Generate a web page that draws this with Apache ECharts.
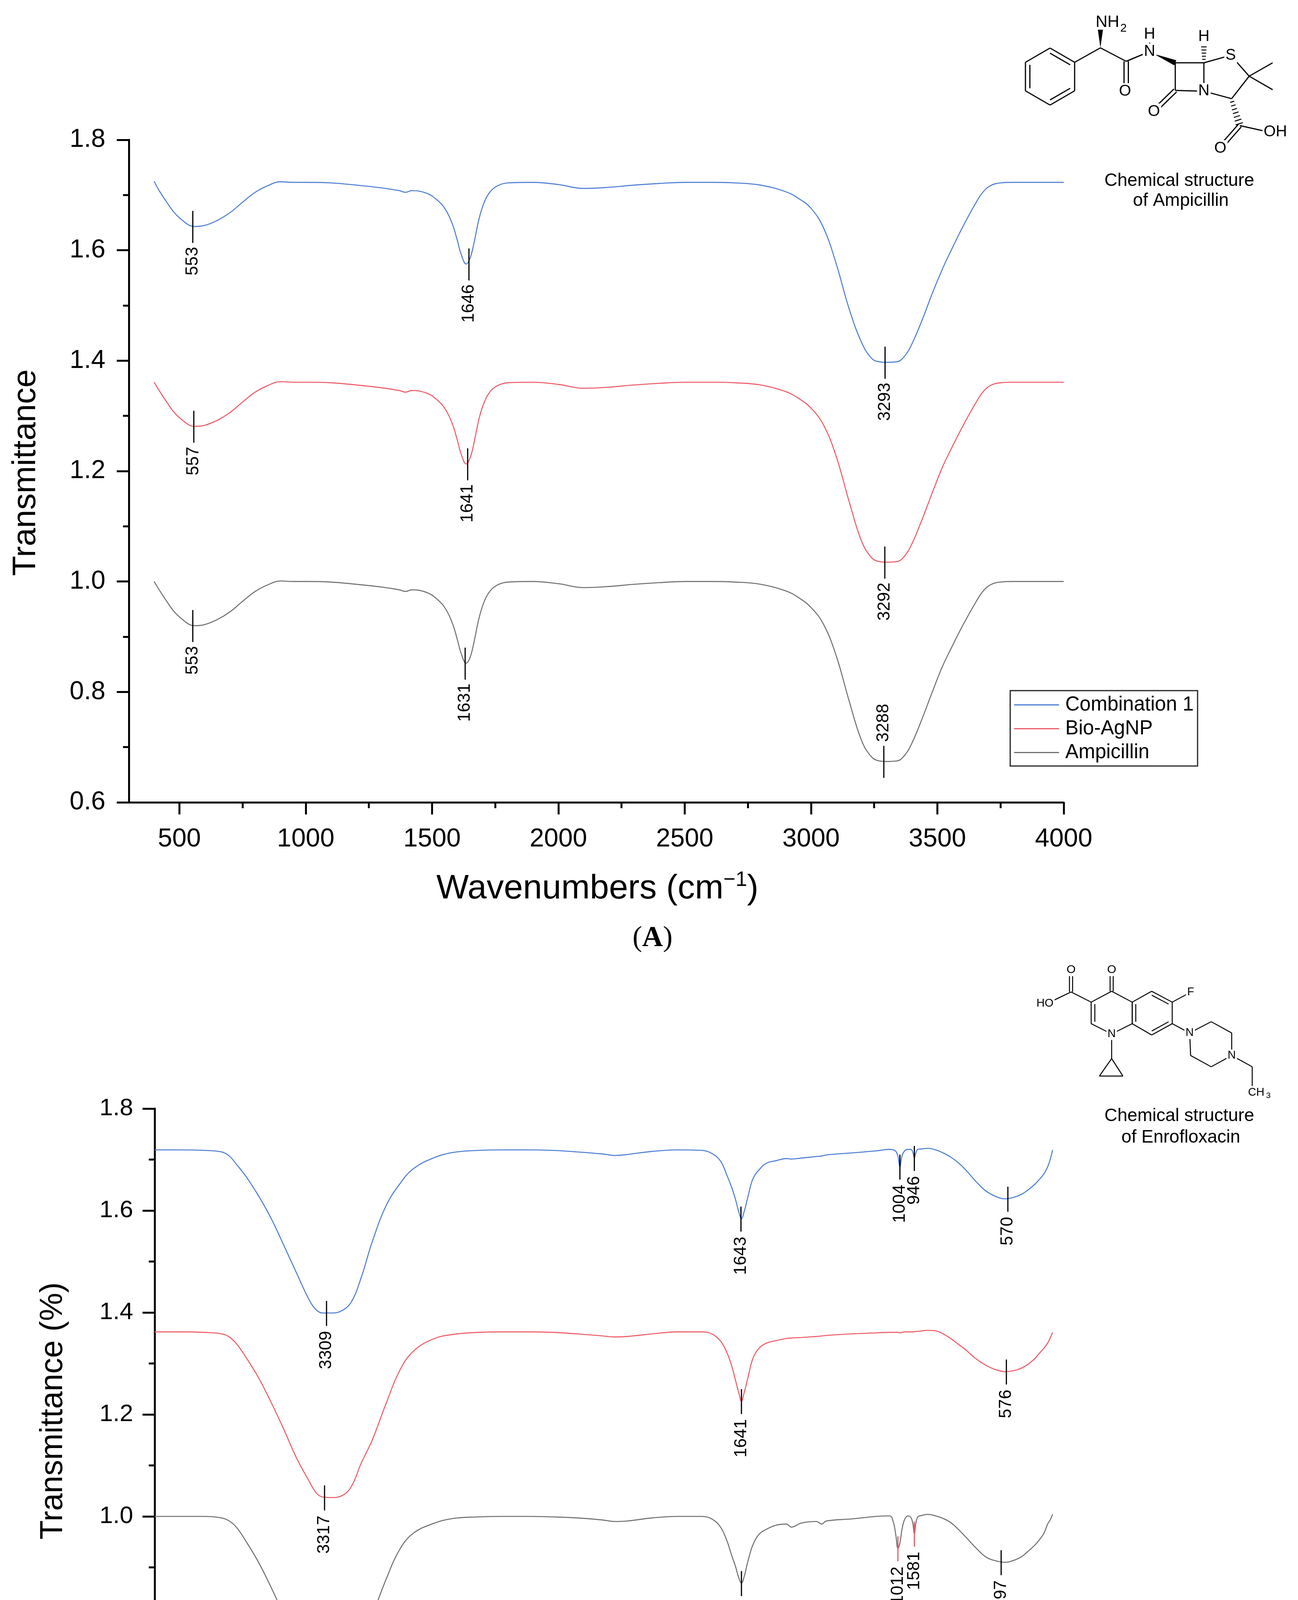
<!DOCTYPE html>
<html>
<head>
<meta charset="utf-8">
<title>FTIR spectra: Ampicillin and Enrofloxacin combinations</title>
<script src="https://cdn.jsdelivr.net/npm/echarts@6/dist/echarts.min.js"></script>
<style>
    html, body { margin: 0; padding: 0; background: #fff; }
    #chart { width: 3324px; height: 4792px; }
</style>
</head>
<body>
<div id="chart"></div>
<script>
// ---- Panel A: Ampicillin / Bio-AgNP / Combination 1 ----
const wavenumbersA = [400, 420, 450, 480, 510, 540, 560, 600, 650, 700, 750, 800, 850, 900, 950, 1000, 1100, 1200, 1300, 1370,
    1395, 1420, 1480, 1520, 1550, 1580, 1600, 1615, 1635, 1650, 1665, 1685, 1705, 1730, 1760, 1800, 1900, 2000, 2100, 2200,
    2300, 2400, 2500, 2600, 2700, 2800, 2900, 2950, 3000, 3050, 3100, 3150, 3200, 3240, 3270, 3300, 3340, 3370, 3400, 3440,
    3480, 3520, 3560, 3600, 3650, 3680, 3710, 3750, 3800, 3900, 4000];

const combination1 = [1.725, 1.708, 1.687, 1.668, 1.655, 1.645, 1.643, 1.645, 1.654, 1.668,
    1.687, 1.705, 1.717, 1.724, 1.723, 1.723, 1.722, 1.718, 1.713, 1.708,
    1.705, 1.708, 1.703, 1.691, 1.676, 1.648, 1.618, 1.593, 1.575, 1.585,
    1.611, 1.655, 1.685, 1.706, 1.717, 1.722, 1.723, 1.719, 1.712, 1.714,
    1.718, 1.721, 1.723, 1.723, 1.722, 1.718, 1.706, 1.694, 1.676, 1.640,
    1.575, 1.495, 1.433, 1.404, 1.398, 1.397, 1.398, 1.408, 1.431, 1.474,
    1.522, 1.566, 1.605, 1.642, 1.684, 1.705, 1.717, 1.722, 1.723, 1.723,
    1.723];

const bioAgnpA = [1.361, 1.346, 1.325, 1.306, 1.293, 1.283, 1.281, 1.283, 1.292, 1.306,
    1.325, 1.343, 1.355, 1.362, 1.361, 1.361, 1.360, 1.356, 1.351, 1.346,
    1.343, 1.346, 1.341, 1.329, 1.314, 1.286, 1.256, 1.231, 1.213, 1.223,
    1.249, 1.293, 1.323, 1.344, 1.355, 1.360, 1.361, 1.357, 1.350, 1.352,
    1.356, 1.359, 1.361, 1.361, 1.360, 1.356, 1.344, 1.332, 1.314, 1.283,
    1.226, 1.146, 1.073, 1.043, 1.036, 1.035, 1.036, 1.046, 1.069, 1.113,
    1.161, 1.207, 1.245, 1.281, 1.322, 1.343, 1.355, 1.360, 1.361, 1.361,
    1.361];

const ampicillin = [1.000, 0.985, 0.964, 0.945, 0.932, 0.922, 0.920, 0.922, 0.931, 0.945,
    0.964, 0.982, 0.994, 1.001, 1.000, 1.000, 0.999, 0.995, 0.990, 0.985,
    0.982, 0.985, 0.980, 0.968, 0.953, 0.925, 0.895, 0.870, 0.852, 0.862,
    0.888, 0.932, 0.962, 0.983, 0.994, 0.999, 1.000, 0.996, 0.989, 0.991,
    0.995, 0.998, 1.000, 1.000, 0.999, 0.995, 0.983, 0.971, 0.953, 0.922,
    0.865, 0.785, 0.712, 0.682, 0.675, 0.674, 0.675, 0.685, 0.708, 0.752,
    0.800, 0.846, 0.884, 0.920, 0.961, 0.982, 0.994, 0.999, 1.000, 1.000,
    1.000];

const peakXA = [553, 1646, 3293, 557, 1641, 3292, 553, 1631, 3288];
const peakYA = [1.643, 1.575, 1.397, 1.281, 1.213, 1.035, 0.920, 0.852, 0.674];
const peakTextA = ['553', '1646', '3293', '557', '1641', '3292', '553', '1631', '3288'];

// ---- Panel B: Enrofloxacin / Bio-AgNP / Combination 2 ----
const wavenumbersB = [390, 400, 410, 425, 445, 465, 490, 515, 545, 580,
    620, 660, 700, 740, 770, 800, 830, 860, 893, 915,
    932, 940, 946, 952, 960, 972, 985, 995, 1004, 1012,
    1020, 1030, 1045, 1100, 1200, 1300, 1318, 1340, 1400, 1440,
    1460, 1500, 1540, 1570, 1595, 1615, 1630, 1641, 1652, 1665,
    1680, 1700, 1725, 1760, 1800, 1900, 2000, 2100, 2150, 2200,
    2300, 2400, 2500, 2600, 2700, 2800, 2880, 2960, 3015, 3070,
    3125, 3170, 3210, 3250, 3290, 3324, 3350, 3380, 3430, 3480,
    3530, 3580, 3630, 3670, 3700, 3730, 3800, 3900, 4000];

const combination2 = [1.719, 1.700, 1.686, 1.672, 1.660, 1.650, 1.640, 1.632, 1.626, 1.623,
    1.628, 1.639, 1.658, 1.680, 1.694, 1.705, 1.713, 1.719, 1.722, 1.721,
    1.720, 1.713, 1.703, 1.714, 1.720, 1.720, 1.717, 1.708, 1.686, 1.707,
    1.716, 1.719, 1.720, 1.717, 1.713, 1.709, 1.707, 1.706, 1.703, 1.701,
    1.702, 1.698, 1.693, 1.680, 1.662, 1.627, 1.598, 1.584, 1.598, 1.622,
    1.645, 1.670, 1.697, 1.712, 1.718, 1.719, 1.716, 1.710, 1.708, 1.711,
    1.715, 1.718, 1.719, 1.719, 1.718, 1.714, 1.703, 1.682, 1.652, 1.609,
    1.539, 1.468, 1.420, 1.403, 1.399, 1.399, 1.405, 1.426, 1.478, 1.531,
    1.583, 1.627, 1.665, 1.690, 1.707, 1.715, 1.718, 1.719, 1.719];

const bioAgnpB = [1.361, 1.350, 1.340, 1.330, 1.319, 1.308, 1.298, 1.291, 1.286, 1.284,
    1.288, 1.297, 1.310, 1.327, 1.338, 1.349, 1.358, 1.364, 1.365, 1.364,
    1.363, 1.363, 1.362, 1.362, 1.362, 1.362, 1.362, 1.361, 1.360, 1.361,
    1.361, 1.361, 1.361, 1.360, 1.358, 1.355, 1.354, 1.353, 1.351, 1.350,
    1.349, 1.345, 1.340, 1.330, 1.310, 1.272, 1.243, 1.226, 1.243, 1.267,
    1.295, 1.322, 1.344, 1.358, 1.362, 1.362, 1.358, 1.353, 1.352, 1.354,
    1.358, 1.361, 1.362, 1.362, 1.361, 1.357, 1.348, 1.324, 1.286, 1.221,
    1.150, 1.104, 1.058, 1.040, 1.037, 1.038, 1.046, 1.070, 1.115, 1.170,
    1.222, 1.270, 1.310, 1.338, 1.352, 1.358, 1.361, 1.362, 1.362];

const enrofloxacin = [1.004, 0.993, 0.985, 0.967, 0.953, 0.942, 0.931, 0.921, 0.914, 0.910,
    0.913, 0.921, 0.939, 0.960, 0.975, 0.988, 0.996, 1.001, 1.004, 1.002,
    0.999, 0.986, 0.966, 0.986, 0.998, 1.001, 0.994, 0.976, 0.948, 0.937,
    0.962, 0.988, 1.001, 1.000, 0.995, 0.991, 0.985, 0.990, 0.987, 0.979,
    0.985, 0.983, 0.975, 0.965, 0.944, 0.912, 0.882, 0.869, 0.880, 0.902,
    0.923, 0.953, 0.979, 0.995, 1.000, 1.000, 0.997, 0.991, 0.990, 0.993,
    0.997, 0.999, 1.000, 1.000, 0.999, 0.996, 0.986, 0.967, 0.935, 0.876,
    0.806, 0.752, 0.712, 0.690, 0.686, 0.686, 0.690, 0.704, 0.754, 0.806,
    0.859, 0.908, 0.949, 0.978, 0.991, 0.997, 1.000, 1.000, 1.000];

const peakXB = [3309, 1643, 1004, 946, 570, 3317, 1641, 576, 3324, 1641, 1012, 946, 597];
const peakYB = [1.399, 1.584, 1.686, 1.703, 1.623, 1.037, 1.226, 1.284, 0.686, 0.869, 0.937, 0.966, 0.910];
const peakTextB = ['3309', '1643', '1004', '946', '570', '3317', '1641', '576', '3324', '1641', '1012', '1581', '597'];

const xLabelsA = [500, 1000, 1500, 2000, 2500, 3000, 3500, 4000];
const xMinorA = [750, 1250, 1750, 2250, 2750, 3250, 3750];
const xLabelsB = [1000, 2000, 3000, 4000];
const xMinorB = [500, 1500, 2500, 3500];

// label placement tweaks (index into the peak arrays)
const labelAboveA = [8];
const labelAboveB = [8];
const redTickB = [10, 11];

const FONT = "'Liberation Sans', Arial, Helvetica, sans-serif";
const SERIF = "'Liberation Serif', 'Times New Roman', serif";
const BLUE = '#4C7DD5';
const RED = '#EE5A66';
const GRAY = '#707070';
const AXIS = { color: '#000', width: 5 };

function pairs(xs, ys) {
    return xs.map((x, i) => [x, ys[i]]);
}

function lineSeries(name, color, xs, ys, axis) {
    return {
        name,
        type: 'line',
        xAxisIndex: axis.x,
        yAxisIndex: axis.y,
        data: pairs(xs, ys),
        symbol: 'none',
        showSymbol: false,
        smooth: 0.4,
        color,
        lineStyle: { color, width: 2.6 },
        z: 2,
    };
}

function peakSeries(xs, ys, texts, axis, geom, aboveIdx, redIdx) {
    return {
        type: 'custom',
        xAxisIndex: axis.x,
        yAxisIndex: axis.y,
        data: pairs(xs, ys),
        z: 5,
        silent: true,
        renderItem(params, api) {
            const i = params.dataIndex;
            const p = api.coord([api.value(0), api.value(1)]);
            const top = p[1] - geom.up;
            const bottom = p[1] + geom.down;
            const above = aboveIdx.includes(i);
            return {
                type: 'group',
                children: [
                    {
                        type: 'line',
                        shape: { x1: p[0], y1: top, x2: p[0], y2: bottom },
                        style: { stroke: redIdx.includes(i) ? RED : '#000', lineWidth: 3 },
                    },
                    {
                        type: 'text',
                        x: p[0],
                        y: above ? top - geom.gap : bottom + geom.gap,
                        rotation: Math.PI / 2,
                        style: {
                            text: texts[i],
                            fill: '#000',
                            fontSize: geom.font,
                            fontFamily: FONT,
                            align: above ? 'left' : 'right',
                            verticalAlign: 'middle',
                        },
                    },
                ],
            };
        },
    };
}

function mainXAxis(gridIndex, inverse, labels, fontSize, margin) {
    return {
        type: 'value',
        gridIndex,
        min: 300,
        max: 4000,
        inverse,
        position: 'bottom',
        axisLine: { show: true, onZero: false, lineStyle: AXIS },
        axisTick: { show: true, length: 31, lineStyle: AXIS, customValues: labels },
        axisLabel: {
            customValues: labels,
            fontSize,
            fontFamily: FONT,
            color: '#000',
            margin,
            formatter: (v) => String(v),
        },
        splitLine: { show: false },
    };
}

function minorXAxis(gridIndex, inverse, ticks) {
    return {
        type: 'value',
        gridIndex,
        min: 300,
        max: 4000,
        inverse,
        position: 'bottom',
        axisLine: { show: false, onZero: false },
        axisTick: { show: true, length: 15, lineStyle: AXIS, customValues: ticks },
        axisLabel: { show: false, customValues: ticks },
        splitLine: { show: false },
    };
}

function yAxis(gridIndex, fontSize, margin) {
    return {
        type: 'value',
        gridIndex,
        min: 0.6,
        max: 1.8,
        interval: 0.2,
        axisLine: { show: true, lineStyle: AXIS },
        axisTick: { show: true, length: 31, lineStyle: AXIS },
        minorTick: { show: true, splitNumber: 2, length: 15, lineStyle: AXIS },
        axisLabel: { fontSize, fontFamily: FONT, color: '#000', margin, formatter: (v) => v.toFixed(1) },
        splitLine: { show: false },
        minorSplitLine: { show: false },
    };
}

function legendBox(names, left, top, fontSize, lineHeight, itemWidth, padding, textGap) {
    return {
        orient: 'vertical',
        left,
        top,
        data: names,
        selectedMode: false,
        icon: 'rect',
        itemWidth,
        itemHeight: 3,
        itemGap: 0,
        padding,
        borderColor: '#222',
        borderWidth: 3,
        backgroundColor: '#fff',
        textStyle: { color: '#000', fontSize, fontFamily: FONT, lineHeight, padding: [0, 0, 0, textGap] },
    };
}

// ---- chemical structure drawings ----
function bond(x1, y1, x2, y2, w) {
    return { type: 'line', z: 10, shape: { x1, y1, x2, y2 }, style: { stroke: '#000', lineWidth: w || 3 } };
}

function doubleBond(x1, y1, x2, y2, gap, w) {
    const len = Math.hypot(x2 - x1, y2 - y1);
    const nx = (-(y2 - y1) / len) * gap / 2;
    const ny = ((x2 - x1) / len) * gap / 2;
    return [bond(x1 + nx, y1 + ny, x2 + nx, y2 + ny, w), bond(x1 - nx, y1 - ny, x2 - nx, y2 - ny, w)];
}

function innerBond(p, q, c, w) {
    const f = 0.18;
    return bond(p[0] + (c[0] - p[0]) * f, p[1] + (c[1] - p[1]) * f,
        q[0] + (c[0] - q[0]) * f, q[1] + (c[1] - q[1]) * f, w);
}

function wedge(x1, y1, x2, y2, w) {
    const len = Math.hypot(x2 - x1, y2 - y1);
    const nx = (-(y2 - y1) / len) * w / 2;
    const ny = ((x2 - x1) / len) * w / 2;
    return { type: 'polygon', z: 10, shape: { points: [[x1, y1], [x2 + nx, y2 + ny], [x2 - nx, y2 - ny]] }, style: { fill: '#000' } };
}

function hashed(x1, y1, x2, y2, w, n) {
    const out = [];
    const len = Math.hypot(x2 - x1, y2 - y1);
    const ux = -(y2 - y1) / len;
    const uy = (x2 - x1) / len;
    for (let i = 0; i < n; i++) {
        const t = (i + 0.5) / n;
        const cx = x1 + (x2 - x1) * t;
        const cy = y1 + (y2 - y1) * t;
        const hw = (w / 2) * (0.5 + 0.5 * t);
        out.push(bond(cx - ux * hw, cy - uy * hw, cx + ux * hw, cy + uy * hw, 2.5));
    }
    return out;
}

function atom(x, y, text, fontSize) {
    return {
        type: 'text', x, y, z: 11,
        style: {
            text, fontSize, fontFamily: FONT, fill: '#000',
            align: 'center', verticalAlign: 'middle',
            backgroundColor: '#fff', padding: [1, 3],
        },
    };
}

function plainText(x, y, text, fontSize, extra) {
    return {
        type: 'text', x, y, z: 11,
        style: Object.assign({ text, fontSize, fontFamily: FONT, fill: '#000', align: 'center', verticalAlign: 'middle' }, extra || {}),
    };
}

function ampicillinDrawing() {
    const els = [];
    const c = [2689, 196];
    const ring = [[2689, 123], [2752, 159.5], [2752, 232.5], [2689, 269], [2626, 232.5], [2626, 159.5]];
    for (let i = 0; i < 6; i++) {
        els.push(bond(ring[i][0], ring[i][1], ring[(i + 1) % 6][0], ring[(i + 1) % 6][1]));
    }
    [[0, 1], [2, 3], [4, 5]].forEach(([a, b]) => els.push(innerBond(ring[a], ring[b], c)));

    els.push(bond(2752, 159.5, 2818, 122.5));
    els.push(wedge(2818, 122.5, 2818, 76, 13));
    els.push(bond(2818, 122.5, 2884, 157));
    els.push(...doubleBond(2884, 157, 2884, 214, 11));
    els.push(bond(2884, 157, 2944, 132));
    els.push(bond(2944, 132, 2944, 100));
    els.push(wedge(2955, 138, 3009.7, 160.7, 14));
    // beta-lactam ring
    els.push(bond(3009.7, 160.7, 3083, 160.7));
    els.push(bond(3083, 160.7, 3083, 233.4));
    els.push(bond(3083, 233.4, 3009.7, 231.5));
    els.push(bond(3009.7, 231.5, 3009.7, 160.7));
    els.push(...doubleBond(3009.7, 231.5, 2964, 276, 10));
    els.push(...hashed(3083, 156, 3083, 108, 16, 6));
    // thiazolidine ring
    els.push(bond(3083, 160.7, 3151.6, 141.6));
    els.push(bond(3151.6, 141.6, 3199, 195));
    els.push(bond(3199, 195, 3259, 160.7));
    els.push(bond(3199, 195, 3259, 229.6));
    els.push(bond(3199, 195, 3154, 252.6));
    els.push(bond(3154, 252.6, 3083, 233.4));
    els.push(...hashed(3154, 256, 3175, 321.5, 20, 7));
    els.push(bond(3175, 321.5, 3240, 336));
    els.push(...doubleBond(3175, 321.5, 3136, 366, 10));

    els.push(plainText(2836, 57, 'NH', 42));
    els.push(plainText(2877, 73, '2', 30));
    els.push(atom(2944, 88, 'H', 40));
    els.push(atom(2944, 132, 'N', 40));
    els.push(atom(3083, 94, 'H', 40));
    els.push(atom(3151.6, 141.6, 'S', 40));
    els.push(atom(3083, 233.4, 'N', 40));
    els.push(atom(2881, 234, 'O', 40));
    els.push(atom(2955, 286, 'O', 40));
    els.push(atom(3266, 338, 'OH', 40));
    els.push(atom(3125, 380, 'O', 40));

    els.push(plainText(3020, 463, 'Chemical structure', 46));
    els.push(plainText(3024, 514, 'of Ampicillin', 46));
    return els;
}

function enrofloxacinDrawing() {
    const els = [];
    const w = 2.5;
    const C3 = [2794.3, 2565.5], C4 = [2846.8, 2537.7], C4a = [2899.4, 2565.5], C8a = [2899.4, 2620.7];
    const N1 = [2846.8, 2647], C2 = [2794.3, 2620.7];
    const C5 = [2949.3, 2537.7], C6 = [3001.9, 2565.5], C7 = [3001.9, 2620.7], C8 = [2949.3, 2649.6];
    const cA = [2846.8, 2592.9], cB = [2950.2, 2593.3];
    const ringA = [C3, C4, C4a, C8a, N1, C2];
    const ringB = [C4a, C5, C6, C7, C8, C8a];
    [ringA, ringB].forEach((ring) => {
        for (let i = 0; i < 6; i++) {
            const p = ring[i], q = ring[(i + 1) % 6];
            els.push(bond(p[0], p[1], q[0], q[1], w));
        }
    });
    els.push(innerBond(C2, C3, cA, w));
    els.push(innerBond(C4a, C8a, cB, w));
    els.push(innerBond(C5, C6, cB, w));
    els.push(innerBond(C7, C8, cB, w));

    els.push(bond(2742.8, 2539.3, C3[0], C3[1], w));
    els.push(bond(2742.8, 2539.3, 2700, 2560, w));
    els.push(...doubleBond(2742.8, 2539.3, 2742.8, 2494, 8, w));
    els.push(...doubleBond(C4[0], C4[1], 2846.8, 2494, 8, w));
    els.push(bond(C6[0], C6[1], 3040, 2545, w));
    els.push(bond(N1[0], N1[1], 2846.8, 2710, w));
    els.push(bond(2846.8, 2710, 2815.3, 2754.7, w));
    els.push(bond(2815.3, 2754.7, 2875.7, 2754.7, w));
    els.push(bond(2875.7, 2754.7, 2846.8, 2710, w));
    // piperazine + ethyl
    const pip = [[3046.5, 2644.4], [3101.7, 2615.5], [3154.2, 2644.4], [3154.2, 2702.2], [3101.7, 2731], [3049.1, 2702.2]];
    for (let i = 0; i < 6; i++) {
        const p = pip[i], q = pip[(i + 1) % 6];
        els.push(bond(p[0], p[1], q[0], q[1], w));
    }
    els.push(bond(C7[0], C7[1], 3046.5, 2644.4, w));
    els.push(bond(3154.2, 2702.2, 3206.8, 2731, w));
    els.push(bond(3206.8, 2731, 3206.8, 2780, w));

    els.push(atom(2676, 2569, 'HO', 29));
    els.push(atom(2742.8, 2483, 'O', 30));
    els.push(atom(2846.8, 2483, 'O', 30));
    els.push(atom(3049, 2540, 'F', 29));
    els.push(atom(2846.8, 2647, 'N', 29));
    els.push(atom(3046.5, 2644.4, 'N', 29));
    els.push(atom(3154.2, 2702.2, 'N', 29));
    els.push(plainText(3217, 2797, 'CH', 29));
    els.push(plainText(3248, 2805, '3', 21));

    els.push(plainText(3020, 2857, 'Chemical structure', 46));
    els.push(plainText(3024, 2912, 'of Enrofloxacin', 46));
    return els;
}

function wavenumberTitle(x, y, fontSize) {
    return {
        type: 'text', x, y,
        style: {
            text: '{a|Wavenumbers (cm}{s|\u22121}{a|)}',
            align: 'center',
            verticalAlign: 'middle',
            rich: {
                a: { fontSize, fontFamily: FONT, fill: '#000', lineHeight: Math.round(fontSize * 1.12) },
                s: { fontSize: Math.round(fontSize * 0.6), fontFamily: FONT, fill: '#000', lineHeight: Math.round(fontSize * 0.6), verticalAlign: 'top' },
            },
        },
    };
}

function panelTag(x, y, letter) {
    return {
        type: 'text', x, y,
        style: {
            text: '{p|(}{b|' + letter + '}{p|)}',
            align: 'center',
            verticalAlign: 'middle',
            rich: {
                p: { fontSize: 74, fontFamily: SERIF, fill: '#000' },
                b: { fontSize: 74, fontFamily: SERIF, fontWeight: 'bold', fill: '#000' },
            },
        },
    };
}

function verticalTitle(x, y, text, fontSize) {
    const el = plainText(x, y, text, fontSize);
    el.rotation = Math.PI / 2;
    return el;
}

const chart = echarts.init(document.getElementById('chart'));

const axisA = { x: 0, y: 0 };
const axisB = { x: 2, y: 1 };

chart.setOption({
    animation: false,
    backgroundColor: '#fff',
    grid: [
        { left: 330, top: 358, width: 2394, height: 1696, outerBoundsMode: 'none', containLabel: false },
        { left: 396, top: 2838, width: 2357, height: 1566, outerBoundsMode: 'none', containLabel: false },
    ],
    xAxis: [
        mainXAxis(0, false, xLabelsA, 66, 62),
        minorXAxis(0, false, xMinorA),
        mainXAxis(1, true, xLabelsB, 63, 57),
        minorXAxis(1, true, xMinorB),
    ],
    yAxis: [
        yAxis(0, 66, 60),
        yAxis(1, 62, 55),
    ],
    legend: [
        legendBox(['Combination 1', 'Bio-AgNP', 'Ampicillin'], 2587, 1768, 51, 61, 115, [6, 10, 4, 10], 11),
        legendBox(['Combination 2', 'Bio-AgNP', 'Enrofloxacin'], 2629, 4167, 47, 56, 109, [3, 8, 3, 6], 9),
    ],
    series: [
        lineSeries('Combination 1', BLUE, wavenumbersA, combination1, axisA),
        lineSeries('Bio-AgNP', RED, wavenumbersA, bioAgnpA, axisA),
        lineSeries('Ampicillin', GRAY, wavenumbersA, ampicillin, axisA),
        peakSeries(peakXA, peakYA, peakTextA, axisA, { up: 40, down: 42, gap: 10, font: 44 }, labelAboveA, []),
        lineSeries('Combination 2', BLUE, wavenumbersB, combination2, axisB),
        lineSeries('Bio-AgNP', RED, wavenumbersB, bioAgnpB, axisB),
        lineSeries('Enrofloxacin', GRAY, wavenumbersB, enrofloxacin, axisB),
        peakSeries(peakXB, peakYB, peakTextB, axisB, { up: 31, down: 33, gap: 13, font: 44 }, labelAboveB, redTickB),
    ],
    graphic: [
        verticalTitle(67, 1210, 'Transmittance', 84),
        verticalTitle(137, 3612, 'Transmittance (%)', 81),
        wavenumberTitle(1530, 2276, 88),
        wavenumberTitle(1582, 4614, 84),
        panelTag(1671, 2403, 'A'),
        panelTag(1671, 4734, 'B'),
        ...ampicillinDrawing(),
        ...enrofloxacinDrawing(),
    ],
});
</script>
</body>
</html>
